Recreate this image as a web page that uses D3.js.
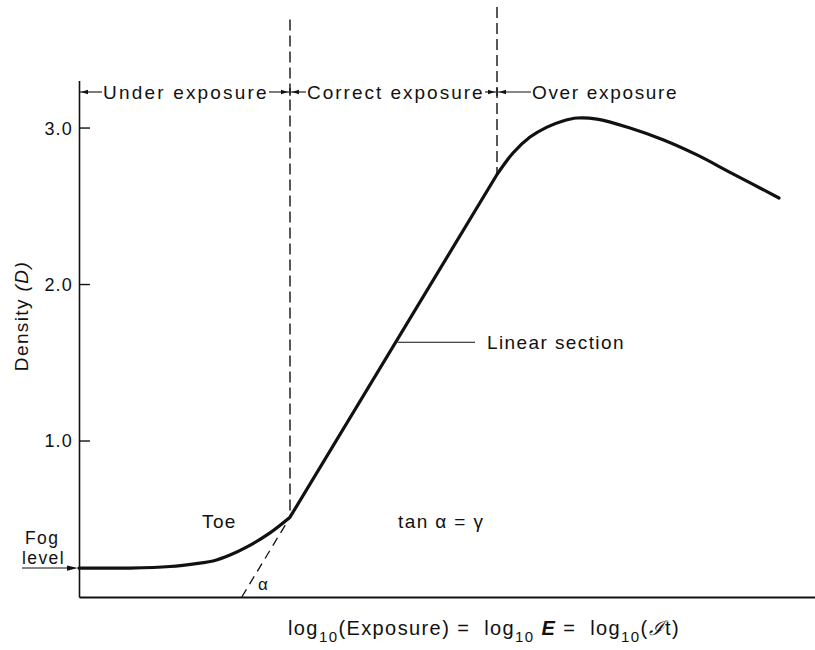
<!DOCTYPE html>
<html>
<head>
<meta charset="utf-8">
<script src="https://cdn.jsdelivr.net/npm/d3@7"></script>
<style>
  html, body { margin: 0; padding: 0; background: #fff; }
  svg { display: block; }
  text { font-family: "Liberation Sans", Arial, Helvetica, sans-serif; fill: #111; white-space: pre; }
</style>
</head>
<body>
<svg id="chart" width="815" height="650"></svg>
<script>
// Characteristic (H&D) curve of a photographic emulsion
// toe: fog level up to the start of the straight-line portion
const toeLogE    = [0.00, 0.51, 0.91, 1.21, 1.34, 1.51, 1.68, 1.91, 2.11];
const toeDensity = [0.185, 0.185, 0.195, 0.217, 0.23, 0.268, 0.32, 0.41, 0.51];
// shoulder: end of the straight-line portion, maximum density, solarisation
const shoulderLogE    = [4.18, 4.34, 4.51, 4.68, 4.84, 4.98, 5.18, 5.51, 5.84, 6.18, 6.51, 7.00];
const shoulderDensity = [2.70, 2.837, 2.939, 3.003, 3.042, 3.061, 3.054, 2.997, 2.922, 2.825, 2.714, 2.550];
const densityTicks = [1.0, 2.0, 3.0];
const fogLevel = 0.185;
const linearLabelDensity = 1.628;
const regionLabels = ["Under exposure", "Correct exposure", "Over exposure"];

const svg = d3.select("#chart");
const x = d3.scaleLinear().domain([0, 7.36]).range([79, 815]);
const y = d3.scaleLinear().domain([0, 3.3]).range([597, 80.6]);

const ink = "#111";
const fontSize = 19;
const spacing = "1.4px";

const toePts = toeLogE.map((e, i) => [e, toeDensity[i]]);
const shoulderPts = shoulderLogE.map((e, i) => [e, shoulderDensity[i]]);
const linearStart = toePts[toePts.length - 1];
const linearEnd = shoulderPts[0];

// axes
const yAxis = d3.axisLeft(y).tickValues(densityTicks).tickFormat(d3.format(".1f"))
  .tickSize(-11).tickSizeOuter(0).tickPadding(6);
const gy = svg.append("g").attr("transform", `translate(${x(0)},0)`).call(yAxis);
gy.select(".domain").attr("stroke", ink).attr("stroke-width", 1.6);
gy.selectAll(".tick line").attr("stroke", ink).attr("stroke-width", 1.4);
gy.selectAll(".tick text").attr("font-size", 18).attr("letter-spacing", "1.2px")
  .attr("font-family", '"Liberation Sans", Arial, sans-serif').attr("fill", "#222").attr("dy", "0.36em");

const xAxis = d3.axisBottom(x).tickValues([]).tickSizeOuter(0);
const gx = svg.append("g").attr("transform", `translate(0,${y(0)})`).call(xAxis);
gx.select(".domain").attr("stroke", ink).attr("stroke-width", 1.8);

// tangent to the straight-line portion, extended down to the exposure axis
const gamma = (linearEnd[1] - linearStart[1]) / (linearEnd[0] - linearStart[0]);
const xIntercept = linearStart[0] - linearStart[1] / gamma;
svg.append("line")
  .attr("x1", x(xIntercept)).attr("y1", y(0))
  .attr("x2", x(linearStart[0])).attr("y2", y(linearStart[1]))
  .attr("stroke", ink).attr("stroke-width", 1.3).attr("stroke-dasharray", "9,6");

// region boundaries
[[linearStart, 3.69], [linearEnd, 3.77]].forEach(([p, top]) => {
  svg.append("line")
    .attr("x1", x(p[0])).attr("x2", x(p[0]))
    .attr("y1", y(top)).attr("y2", y(p[1]))
    .attr("stroke", ink).attr("stroke-width", 1.4).attr("stroke-dasharray", "11,5");
});

// curve: smooth toe, straight middle section, smooth shoulder
const smooth = d3.line().x(d => x(d[0])).y(d => y(d[1])).curve(d3.curveCatmullRom.alpha(0.5));
const curvePath = smooth(toePts) + "L" + smooth(shoulderPts).slice(1);
svg.append("path").attr("d", curvePath)
  .attr("fill", "none").attr("stroke", ink).attr("stroke-width", 3.2)
  .attr("stroke-linejoin", "round").attr("stroke-linecap", "round");

// small arrowhead helper
function arrowHead(px, py, dir, len = 7, half = 2.2) {
  svg.append("path")
    .attr("d", `M${px},${py} L${px - dir * len},${py - half} L${px - dir * len},${py + half} Z`)
    .attr("fill", ink);
}

// region header: |<- Under exposure ->|<- Correct exposure ->|<- Over exposure
const hy = 92;
const bounds = [x(0), x(linearStart[0]), x(linearEnd[0])];
const labelPos = [[103, 268], [307, 484], [532, 678]];
regionLabels.forEach((lab, i) => {
  const [tx0, tx1] = labelPos[i];
  svg.append("text").attr("x", tx0).attr("y", hy + 7)
    .attr("font-size", fontSize).attr("letter-spacing", spacing)
    .attr("textLength", tx1 - tx0).attr("lengthAdjust", "spacing").text(lab);
  svg.append("line").attr("x1", bounds[i] + 1).attr("x2", tx0 - 1)
    .attr("y1", hy).attr("y2", hy).attr("stroke", ink).attr("stroke-width", 1.1);
  arrowHead(bounds[i] + 2, hy, -1);
  if (i < 2) {
    svg.append("line").attr("x1", tx1 + 1).attr("x2", bounds[i + 1] - 1)
      .attr("y1", hy).attr("y2", hy).attr("stroke", ink).attr("stroke-width", 1.1);
    arrowHead(bounds[i + 1] - 2, hy, 1);
  }
});
[bounds[1], bounds[2]].forEach(bx => {
  svg.append("line").attr("x1", bx).attr("x2", bx).attr("y1", hy - 4).attr("y2", hy + 4)
    .attr("stroke", ink).attr("stroke-width", 1.2);
});

// y-axis title
svg.append("text")
  .attr("transform", "translate(28,316) rotate(-90)")
  .attr("text-anchor", "middle").attr("font-size", fontSize).attr("letter-spacing", spacing)
  .call(t => {
    t.append("tspan").text("Density ");
    t.append("tspan").attr("font-style", "italic").text("(D)");
  });

// linear section label
const lsY = y(linearLabelDensity);
const lsX = x(linearStart[0] + (linearLabelDensity - linearStart[1]) / gamma);
svg.append("line").attr("x1", lsX + 2).attr("x2", 475).attr("y1", lsY).attr("y2", lsY)
  .attr("stroke", ink).attr("stroke-width", 1.1);
svg.append("text").attr("x", 487).attr("y", lsY + 6.5)
  .attr("font-size", fontSize).attr("letter-spacing", spacing).text("Linear section");

// toe label
svg.append("text").attr("x", 202).attr("y", 528)
  .attr("font-size", fontSize).attr("letter-spacing", spacing).text("Toe");

// gamma relation
svg.append("text").attr("x", 398).attr("y", 528)
  .attr("font-size", fontSize).attr("letter-spacing", spacing).text("tan \u03b1 = \u03b3");

// angle label
svg.append("text").attr("x", 258).attr("y", 590)
  .attr("font-size", 17).text("\u03b1");

// fog level
svg.append("text").attr("x", 25).attr("y", 544).attr("font-size", 17.5).attr("letter-spacing", spacing).text("Fog");
svg.append("text").attr("x", 22).attr("y", 564).attr("font-size", 17.5).attr("letter-spacing", spacing).text("level");
svg.append("line").attr("x1", 22).attr("x2", x(0) - 6).attr("y1", y(fogLevel)).attr("y2", y(fogLevel))
  .attr("stroke", ink).attr("stroke-width", 1.1);
arrowHead(x(0) - 1, y(fogLevel), 1, 11, 2.6);

// exposure axis title
const xt = svg.append("text").attr("x", 288).attr("y", 635)
  .attr("font-size", 20).attr("letter-spacing", "1.4px");
function logTen(sel) {
  sel.append("tspan").text("log");
  sel.append("tspan").attr("font-size", 15).attr("dy", 7).text("10");
}
logTen(xt);
xt.append("tspan").attr("dy", -7).text("(Exposure) =  ");
logTen(xt);
xt.append("tspan").attr("dy", -7).text(" ");
xt.append("tspan").attr("font-weight", "bold").attr("font-style", "italic").text("E");
xt.append("tspan").text(" =  ");
logTen(xt);
xt.append("tspan").attr("dy", -7).text("(");
xt.append("tspan").attr("font-family", "DejaVu Serif, serif").attr("font-style", "italic").text("\u2110");
xt.append("tspan").text("t)");
</script>
</body>
</html>
